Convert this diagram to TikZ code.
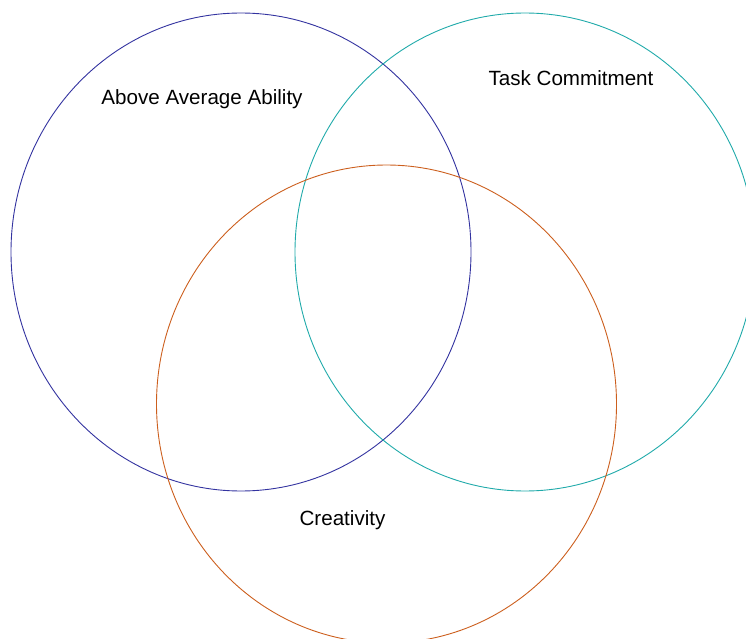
\documentclass[tikz,border=0pt]{standalone}
\usepackage{fontspec}
\setmainfont{Liberation Sans}

\definecolor{abilityblue}{RGB}{51,51,160}
\definecolor{taskteal}{RGB}{32,170,170}
\definecolor{creatorange}{RGB}{204,95,30}

\begin{document}
\begin{tikzpicture}[x=1pt,y=-1pt]
		\tikzset{ring/.style = {line width=0.9pt}}
		\tikzset{lbl/.style = {anchor=base, inner sep=0pt, font=\fontsize{20.6}{24}\selectfont}}

		\useasboundingbox (0,0) rectangle (746,639);

		\draw[ring, abilityblue] (241,252) ellipse (230 and 239);
		\draw[ring, taskteal] (525,252) ellipse (230 and 239);
		\draw[ring, creatorange] (386.5,404) ellipse (230 and 239);

		%labels
		\node[lbl] (ability) at (202,105) {Above Average Ability};
		\node[lbl] (task) at (571,86) {Task Commitment};
		\node[lbl] (creativity) at (342.5,525) {Creativity};

	\end{tikzpicture}
\end{document}
